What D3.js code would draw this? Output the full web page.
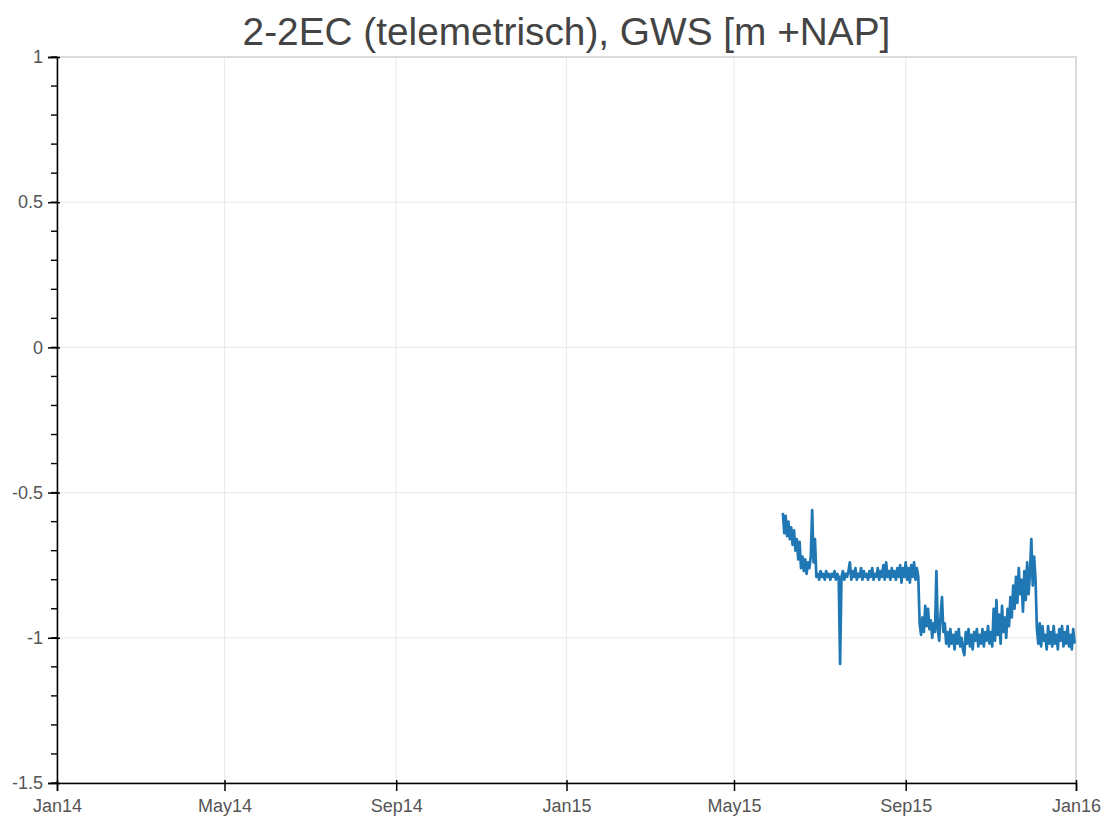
<!DOCTYPE html>
<html>
<head>
<meta charset="utf-8">
<script src="https://cdn.jsdelivr.net/npm/d3@7"></script>
<style>
body { margin: 0; background: #fff; }
text { font-family: "Liberation Sans", Arial, sans-serif; }
</style>
</head>
<body>
<script>
// chart text
var title = "2-2EC (telemetrisch), GWS [m +NAP]";
var xDomain = ["2014-01-01", "2016-01-01"];
var yDomain = [-1.5, 1];
var yTicks = [-1.5, -1, -0.5, 0, 0.5, 1];

// daily readings starting 5 Jun 2015 (one value per day)
var startDate = "2015-06-05";
var gws = [
  -0.57, -0.64, -0.58, -0.65, -0.60, -0.66, -0.62, -0.68, -0.63, -0.70,
  -0.66, -0.73, -0.67, -0.76, -0.72, -0.77, -0.73, -0.78, -0.74, -0.76,
  -0.72, -0.56, -0.74, -0.66, -0.79,
  -0.78, -0.80, -0.77, -0.79, -0.78, -0.80, -0.77, -0.79, -0.78, -0.80,
  -0.78, -0.79, -0.77, -0.80, -0.78, -0.79,
  -1.09,
  -0.79, -0.77, -0.80, -0.78, -0.79, -0.77, -0.74, -0.80, -0.77, -0.79,
  -0.76, -0.80, -0.78, -0.79, -0.76, -0.80, -0.77, -0.79, -0.78,
  -0.80, -0.77, -0.79, -0.76, -0.80, -0.78, -0.79, -0.76, -0.80, -0.77,
  -0.79, -0.75, -0.80, -0.74, -0.79, -0.77, -0.80, -0.76, -0.79, -0.77,
  -0.80, -0.76, -0.79, -0.75, -0.81, -0.76, -0.79, -0.74, -0.80, -0.76,
  -0.81, -0.75, -0.79, -0.74, -0.80, -0.76, -0.79,
  -0.95, -0.99, -0.93, -0.98, -0.89, -0.96, -0.90, -0.97, -0.94, -1.00,
  -0.95, -0.98, -0.77, -0.97, -1.01, -0.92, -0.86, -0.98, -0.95, -1.02,
  -0.98, -1.03, -0.97, -1.02, -0.99, -1.04, -0.98, -1.02, -0.97, -1.03,
  -1.00, -1.04, -1.06, -0.98, -1.02, -0.97, -1.03, -0.99, -1.04, -0.98,
  -1.01, -0.97, -1.03, -0.99, -1.02, -0.97, -1.03, -0.98, -1.01, -0.96,
  -1.02, -0.98, -1.03,
  -0.90, -1.01, -0.87, -0.99, -0.92, -1.02, -0.89, -0.98, -0.93, -1.00,
  -0.90, -0.96, -0.86, -0.93, -0.82, -0.90, -0.79, -0.88, -0.76, -0.85,
  -0.80, -0.91, -0.77, -0.87, -0.74, -0.85, -0.78, -0.66, -0.82, -0.72,
  -0.80,
  -0.97, -1.02, -0.95, -1.03, -0.96, -1.01, -0.99, -1.04, -0.96, -1.02,
  -0.98, -1.03, -0.96, -1.02, -0.99, -1.04, -0.97, -1.01, -0.96, -1.03,
  -0.98, -1.02, -0.96, -1.03, -0.99, -1.04, -0.97, -1.02
];

var W = 1112, H = 818;
var margin = {top: 57, right: 36, bottom: 35, left: 57};
var w = W - margin.left - margin.right, h = H - margin.top - margin.bottom;

var parse = d3.utcParse("%Y-%m-%d");
var t0 = parse(startDate);
var data = gws.map(function(v, i) { return {date: d3.utcDay.offset(t0, i), v: v}; });

var svg = d3.select("body").append("svg").attr("width", W).attr("height", H);

var x = d3.scaleUtc().domain(xDomain.map(parse)).range([0, w]);
var y = d3.scaleLinear().domain(yDomain).range([h, 0]);

var g = svg.append("g").attr("transform", "translate(" + margin.left + "," + margin.top + ")");

var xTicks = d3.utcMonth.every(4).range(x.domain()[0], d3.utcDay.offset(x.domain()[1], 1));
var yMinor = d3.range(-15, 11).map(function(d) { return d / 10; });

// grid
g.selectAll("line.xgrid").data(xTicks).enter().append("line")
  .attr("class", "xgrid")
  .attr("x1", function(d) { return x(d); }).attr("x2", function(d) { return x(d); })
  .attr("y1", 0).attr("y2", h)
  .attr("stroke", "#ebebeb").attr("stroke-width", 1.2);
g.selectAll("line.ygrid").data(yTicks).enter().append("line")
  .attr("class", "ygrid")
  .attr("x1", 0).attr("x2", w)
  .attr("y1", function(d) { return y(d); }).attr("y2", function(d) { return y(d); })
  .attr("stroke", "#ebebeb").attr("stroke-width", 1.2);

// outline
g.append("rect").attr("width", w).attr("height", h)
  .attr("fill", "none").attr("stroke", "#d4d4d4").attr("stroke-width", 1.5);

// line
g.append("path").datum(data)
  .attr("fill", "none")
  .attr("stroke", "#1f77b4")
  .attr("stroke-width", 2.7)
  .attr("stroke-linejoin", "round")
  .attr("d", d3.line().x(function(d) { return x(d.date); }).y(function(d) { return y(d.v); }));

// y axis minor ticks
g.selectAll("line.yminor").data(yMinor).enter().append("line")
  .attr("class", "yminor")
  .attr("x1", -6).attr("x2", 0)
  .attr("y1", function(d) { return y(d); }).attr("y2", function(d) { return y(d); })
  .attr("stroke", "#000").attr("stroke-width", 1.4);

var yAxis = g.append("g")
  .call(d3.axisLeft(y).tickValues(yTicks).tickSize(9).tickPadding(5).tickFormat(function(d) { return String(d); }));
var xAxis = g.append("g").attr("transform", "translate(0," + h + ")")
  .call(d3.axisBottom(x).tickValues(xTicks).tickSize(8).tickPadding(8).tickFormat(d3.utcFormat("%b%y")));

[yAxis, xAxis].forEach(function(a) {
  a.select(".domain").attr("stroke", "#000").attr("stroke-width", 1.5);
  a.selectAll(".tick line").attr("stroke", "#000").attr("stroke-width", 1.5);
  a.selectAll(".tick text").attr("fill", "#555").attr("font-size", 18)
    .style("font-family", "'Liberation Sans', Arial, sans-serif");
});
// small inward part of the major ticks
xAxis.selectAll(".tick line").attr("y1", -3);
yAxis.selectAll(".tick line").attr("x1", 3);

svg.append("text")
  .attr("x", margin.left + w / 2)
  .attr("y", 45)
  .attr("text-anchor", "middle")
  .attr("fill", "#444")
  .attr("font-size", 38.8)
  .text(title);
</script>
</body>
</html>
